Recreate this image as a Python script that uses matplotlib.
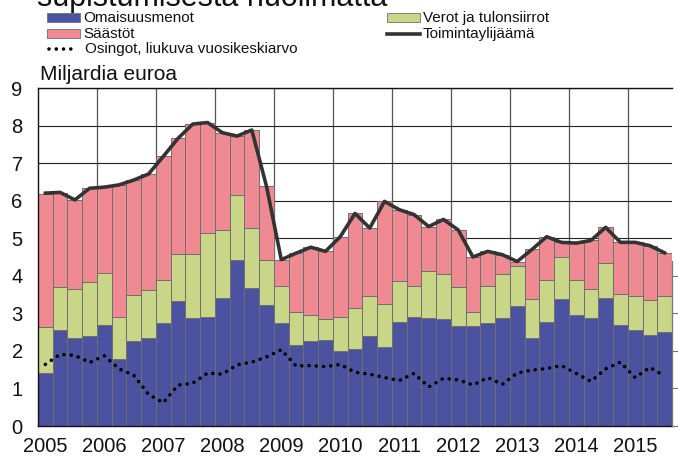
import matplotlib
matplotlib.use("Agg")
import matplotlib.pyplot as plt
import numpy as np
from matplotlib.patches import Rectangle
from matplotlib.lines import Line2D

plt.rcParams['font.family'] = ['Liberation Sans', 'DejaVu Sans']

# Quarterly data 2005Q1 - 2015Q3 (billion euro)
years = [2005, 2006, 2007, 2008, 2009, 2010, 2011, 2012, 2013, 2014, 2015]
omaisuusmenot = [1.42, 2.55, 2.35, 2.39, 2.68, 1.78, 2.27, 2.34, 2.73, 3.34, 2.88,
                 2.89, 3.42, 4.43, 3.67, 3.22, 2.74, 2.15, 2.27, 2.30, 2.00, 2.05,
                 2.40, 2.11, 2.77, 2.89, 2.88, 2.86, 2.65, 2.65, 2.75, 2.88, 3.19,
                 2.34, 2.77, 3.37, 2.95, 2.88, 3.42, 2.68, 2.56, 2.42, 2.50]
verot = [1.21, 1.15, 1.30, 1.45, 1.40, 1.12, 1.23, 1.27, 1.15, 1.24, 1.70,
         2.24, 1.80, 1.72, 1.60, 1.20, 0.99, 0.89, 0.68, 0.54, 0.90, 1.10,
         1.06, 1.13, 1.10, 0.83, 1.24, 1.18, 1.05, 0.38, 0.98, 1.16, 1.08,
         1.04, 1.11, 1.14, 0.93, 0.77, 0.92, 0.83, 0.89, 0.93, 0.95]
saastot = [3.56, 2.50, 2.37, 2.49, 2.29, 3.52, 3.05, 3.10, 3.30, 3.08, 3.45,
           2.94, 2.59, 1.57, 2.61, 1.96, 0.70, 1.56, 1.81, 1.81, 2.14, 2.51,
           1.81, 2.74, 1.89, 1.91, 1.19, 1.46, 1.52, 1.47, 0.92, 0.52, 0.11,
           1.32, 1.15, 0.38, 0.99, 1.29, 0.95, 1.38, 1.44, 1.43, 1.15]
toimintaylijaama = [6.20, 6.22, 6.02, 6.33, 6.36, 6.42, 6.55, 6.71, 7.18, 7.66, 8.04,
                    8.08, 7.81, 7.72, 7.88, 6.38, 4.43, 4.60, 4.76, 4.65, 5.04, 5.66,
                    5.27, 5.98, 5.76, 5.63, 5.31, 5.50, 5.22, 4.50, 4.65, 4.56, 4.38,
                    4.70, 5.04, 4.89, 4.87, 4.94, 5.29, 4.89, 4.89, 4.80, 4.61]
osingot = [1.64, 1.91, 1.88, 1.69, 1.87, 1.52, 1.35, 0.84, 0.62, 1.09, 1.14,
           1.41, 1.38, 1.63, 1.70, 1.84, 2.03, 1.60, 1.61, 1.58, 1.64, 1.43,
           1.38, 1.29, 1.21, 1.40, 1.04, 1.27, 1.23, 1.09, 1.29, 1.11, 1.41,
           1.49, 1.53, 1.61, 1.40, 1.19, 1.52, 1.70, 1.29, 1.56, 1.33]

labels_legend = ["Omaisuusmenot", "Verot ja tulonsiirrot", "Säästöt",
                 "Toimintaylijäämä", "Osingot, liukuva vuosikeskiarvo"]

c_blue = '#4B52A0'
c_green = '#C9D688'
c_pink = '#F08A92'
c_line = '#333333'
edge = '#6f6f6f'

W, H = 678, 461
fig = plt.figure(figsize=(W / 100, H / 100), dpi=100)
ax = fig.add_axes([38 / W, 1 - 426 / H, (672 - 38) / W, (426 - 88) / H])

n = len(omaisuusmenot)
x = np.arange(n)
b1 = np.array(omaisuusmenot)
b2 = np.array(verot)
b3 = np.array(saastot)

ax.bar(x, b1, width=1.0, color=c_blue, edgecolor=edge, linewidth=0.7, zorder=2)
ax.bar(x, b2, width=1.0, bottom=b1, color=c_green, edgecolor=edge, linewidth=0.7, zorder=2)
ax.bar(x, b3, width=1.0, bottom=b1 + b2, color=c_pink, edgecolor=edge, linewidth=0.7, zorder=2)
ax.plot(x, toimintaylijaama, color=c_line, lw=2.6, zorder=3, solid_joinstyle='round')
ax.plot(x, osingot, color='black', lw=2.6, linestyle=(0, (0.01, 2.0)),
        dash_capstyle='round', zorder=4)

ax.set_xlim(-0.5, n - 0.5)
ax.set_ylim(0, 9)
ax.set_yticks(range(0, 10))
ax.set_xticks([4 * i for i in range(len(years))])
ax.set_xticklabels([str(y) for y in years])
ax.set_xticks([4 * i + 3.5 for i in range(len(years) - 1)], minor=True)

ax.grid(axis='y', color='#222222', lw=0.8, zorder=0)
for xb in [4 * i + 3.5 for i in range(len(years) - 1)]:
    ax.axvline(xb, color='#555555', lw=0.9, zorder=0)

ax.tick_params(axis='both', which='major', length=0, labelsize=14.5, colors='#111111')
ax.tick_params(axis='y', pad=11)
ax.tick_params(axis='x', pad=8)
ax.tick_params(axis='x', which='minor', direction='in', length=4, color='#555555')
for s in ['left', 'bottom', 'top']:
    ax.spines[s].set_color('#111111')
    ax.spines[s].set_linewidth(1.0)
ax.spines['right'].set_visible(False)

# secondary right-hand axis stub (ticks only in lower part, as in the original)
axr = ax.twinx()
axr.set_ylim(0, 9)
axr.set_yticks(range(0, 5))
axr.tick_params(axis='y', direction='out', length=5, width=0.8, color='#777777',
                labelright=False)
for s in ['left', 'bottom', 'top']:
    axr.spines[s].set_visible(False)
axr.spines['right'].set_bounds(0, 4.4)
axr.spines['right'].set_color('#777777')
axr.spines['right'].set_linewidth(0.9)

# title (partially cut at top) and unit label
fig.text(37 / W, 1 - 6 / H, "supistumisesta huolimatta", fontsize=22,
         va='baseline', ha='left', color='#111111')
fig.text(40 / W, 1 - 80 / H, "Miljardia euroa", fontsize=15, va='baseline',
         ha='left', color='#111111')

# legend drawn in figure pixel coordinates
ov = fig.add_axes([0, 0, 1, 1], facecolor='none')
ov.set_xlim(0, W)
ov.set_ylim(H, 0)
ov.axis('off')
fs = 11
ov.add_patch(Rectangle((47, 13), 33, 9, facecolor=c_blue, edgecolor=edge, lw=0.6))
ov.text(83, 18, labels_legend[0], fontsize=fs, va='center', ha='left', color='#111111')
ov.add_patch(Rectangle((387, 13), 33, 9, facecolor=c_green, edgecolor=edge, lw=0.6))
ov.text(423, 18, labels_legend[1], fontsize=fs, va='center', ha='left', color='#111111')
ov.add_patch(Rectangle((47, 29), 33, 9, facecolor=c_pink, edgecolor=edge, lw=0.6))
ov.text(83, 34, labels_legend[2], fontsize=fs, va='center', ha='left', color='#111111')
ov.add_line(Line2D([387, 420], [34, 34], color=c_line, lw=2.6))
ov.text(423, 34, labels_legend[3], fontsize=fs, va='center', ha='left', color='#111111')
ov.add_line(Line2D([49, 75], [49, 49], color='black', lw=2.6,
                   linestyle=(0, (0.01, 2.0)), dash_capstyle='round'))
ov.text(85, 49, labels_legend[4], fontsize=fs, va='center', ha='left', color='#111111')

fig.savefig("out.png", dpi=100)
